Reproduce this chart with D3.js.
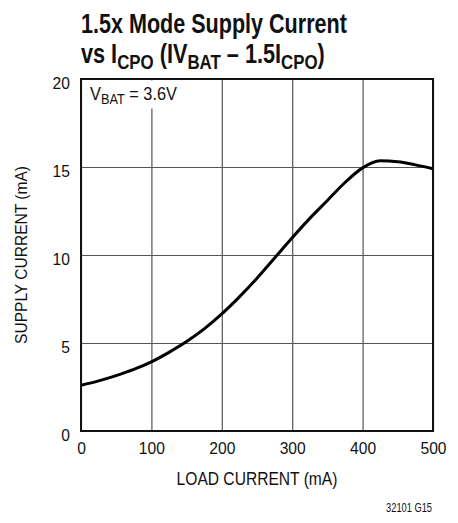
<!DOCTYPE html>
<html>
<head>
<meta charset="utf-8">
<script src="https://cdn.jsdelivr.net/npm/d3@7"></script>
<style>
  body { margin: 0; background: #fff; }
  text { font-family: "Liberation Sans", Arial, sans-serif; fill: #111; }
</style>
</head>
<body>
<div class="chart"></div>
<script>
// DATA ------------------------------
const loadCurrent = [0, 25, 50, 75, 100, 125, 150, 175, 200, 225, 250, 275, 300, 325, 350, 375, 400, 425, 450, 475, 500];
const supplyCurrent = [2.6, 2.85, 3.15, 3.5, 3.93, 4.47, 5.08, 5.8, 6.65, 7.62, 8.68, 9.83, 10.98, 12.08, 13.1, 14.12, 14.95, 15.35, 15.3, 15.12, 14.9];
const xTicks = [0, 100, 200, 300, 400, 500];
const yTicks = [0, 5, 10, 15, 20];

// CHART INIT ------------------------------
const margin = ({top: 79, right: 25, bottom: 92, left: 81});
const width = 458 - margin.left - margin.right;
const height = 523 - margin.top - margin.bottom;

const root = d3.select(".chart")
    .append("svg")
    .attr("width", 458)
    .attr("height", 523);
const svg = root.append("g")
    .attr("transform", `translate(${margin.left},${margin.top})`);

let xScale = d3.scaleLinear().domain([0, 500]).range([0, width]);
let yScale = d3.scaleLinear().domain([0, 20]).range([height, 0]);

// squeeze a text horizontally so it looks like the condensed face
function narrow(sel, x, y, target, rot) {
  const w = sel.node().getComputedTextLength();
  const k = target / w;
  sel.attr("x", 0).attr("y", 0)
     .attr("transform", `translate(${x},${y})` + (rot ? ` rotate(${rot})` : "") + ` scale(${k},1)`);
  return sel;
}

// grid
svg.append("g")
  .attr("transform", `translate(0,${height})`)
  .call(d3.axisBottom(xScale).tickValues(xTicks).tickSize(-height).tickFormat(""))
  .call(g => g.select(".domain").remove())
  .selectAll("line").attr("stroke", "#555").attr("stroke-width", 1.2);
svg.append("g")
  .call(d3.axisLeft(yScale).tickValues(yTicks).tickSize(-width).tickFormat(""))
  .call(g => g.select(".domain").remove())
  .selectAll("line").attr("stroke", "#555").attr("stroke-width", 1.2);

// tick labels
svg.append("g")
  .attr("transform", `translate(0,${height})`)
  .call(d3.axisBottom(xScale).tickValues(xTicks).tickSize(0).tickPadding(11))
  .call(g => g.select(".domain").remove())
  .selectAll("text").attr("font-size", "17px").attr("font-family", null).attr("fill", "#111")
  .attr("transform", "scale(0.92,1)");
svg.append("g")
  .call(d3.axisLeft(yScale).tickValues(yTicks).tickSize(0).tickPadding(11))
  .call(g => g.select(".domain").remove())
  .selectAll("text").attr("font-size", "17px").attr("font-family", null).attr("fill", "#111")
  .attr("dy", "0.55em")
  .attr("transform", "scale(0.92,1)")
  .attr("x", -11 / 0.92);

// V_BAT label with white backing over grid
svg.append("rect")
  .attr("x", 3).attr("y", 1.5).attr("width", 95).attr("height", 28)
  .attr("fill", "#fff");
const vb = svg.append("text").attr("font-size", "18px");
vb.append("tspan").text("V");
vb.append("tspan").attr("font-size", "14px").attr("dy", 4).text("BAT");
vb.append("tspan").attr("dy", -4).text(" = 3.6V");
narrow(vb, 9, 21, 87);

// curve
const line = d3.line()
  .x((d, i) => xScale(loadCurrent[i]))
  .y(d => yScale(d))
  .curve(d3.curveMonotoneX);
svg.append("path")
  .datum(supplyCurrent)
  .attr("fill", "none")
  .attr("stroke", "#000")
  .attr("stroke-width", 3)
  .attr("d", line);

// frame
svg.append("rect")
  .attr("width", width).attr("height", height)
  .attr("fill", "none").attr("stroke", "#111").attr("stroke-width", 2);

// axis titles
narrow(root.append("text")
  .attr("text-anchor", "middle").attr("font-size", "18px")
  .text("LOAD CURRENT (mA)"), margin.left + width / 2, 485, 161);
narrow(root.append("text")
  .attr("text-anchor", "middle").attr("font-size", "17px")
  .text("SUPPLY CURRENT (mA)"), 27, margin.top + height / 2, 178, -90);
narrow(root.append("text")
  .attr("text-anchor", "end").attr("font-size", "12px")
  .text("32101 G15"), 432, 512, 46);

// title
narrow(root.append("text")
  .attr("font-size", "27px").attr("font-weight", "bold")
  .text("1.5x Mode Supply Current"), 81, 33, 266);
const t2 = root.append("text")
  .attr("font-size", "27px").attr("font-weight", "bold");
t2.append("tspan").text("vs I");
t2.append("tspan").attr("font-size", "21px").attr("dy", 6).text("CPO");
t2.append("tspan").attr("dy", -6).text(" (IV");
t2.append("tspan").attr("font-size", "21px").attr("dy", 6).text("BAT");
t2.append("tspan").attr("dy", -6).text(" \u2013 1.5I");
t2.append("tspan").attr("font-size", "21px").attr("dy", 6).text("CPO");
t2.append("tspan").attr("dy", -6).text(")");
narrow(t2, 81, 63, 244);
</script>
</body>
</html>
